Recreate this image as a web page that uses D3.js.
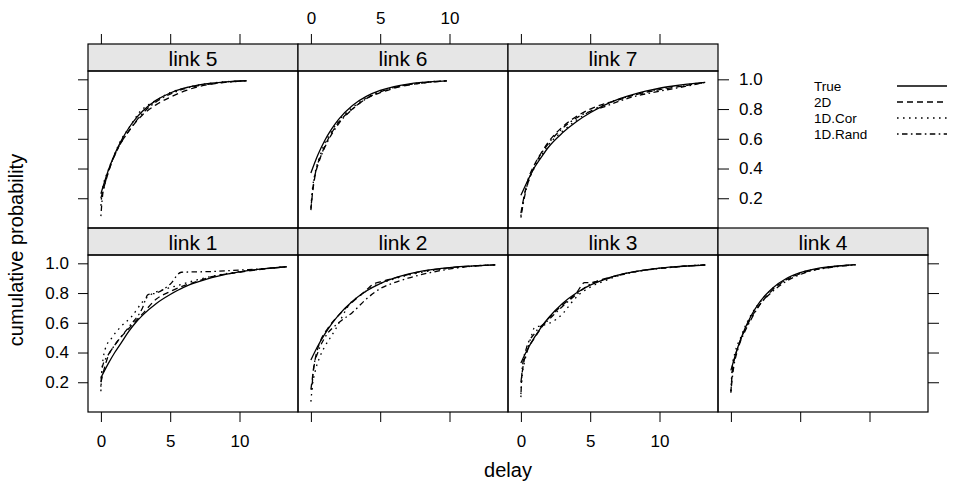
<!DOCTYPE html>
<html><head><meta charset="utf-8">
<script src="https://cdn.jsdelivr.net/npm/d3@7"></script>
<style>body{margin:0;background:#fff}svg{display:block}text{font-family:"Liberation Sans",Arial,Helvetica,sans-serif;fill:#000}</style>
</head><body><svg id="chart" width="957" height="485"></svg>
<script>
// ---- data ----
const links = ["link 1","link 2","link 3","link 4","link 5","link 6","link 7"];
const seriesNames = ["True","2D","1D.Cor","1D.Rand"];
const xTicks = [0,5,10];
const yTicks = [0.2,0.4,0.6,0.8,1.0];
const yTickLabels = ["0.2","0.4","0.6","0.8","1.0"];

const trueCurve = {
  "link 1": [[0,0.23],[0.5,0.32],[1,0.40],[1.5,0.47],[2,0.54],[2.5,0.60],[3,0.65],[4,0.73],[5,0.79],[6,0.84],[7,0.875],[8,0.904],[9,0.926],[10,0.943],[11,0.956],[12,0.966],[13.4,0.977]],
  "link 2": [[0,0.35],[0.5,0.444],[1,0.524],[1.5,0.593],[2,0.652],[3,0.745],[4,0.814],[5,0.864],[6,0.90],[7,0.927],[8,0.947],[9,0.961],[10,0.971],[11,0.979],[12,0.985],[13.3,0.99]],
  "link 3": [[0,0.33],[0.5,0.425],[1,0.505],[1.5,0.575],[2,0.634],[3,0.73],[4,0.80],[5,0.853],[6,0.891],[7,0.92],[8,0.941],[9,0.956],[10,0.968],[11,0.976],[12,0.982],[13.3,0.988]],
  "link 4": [[0,0.28],[0.5,0.436],[1,0.558],[1.5,0.654],[2,0.729],[2.5,0.787],[3,0.833],[4,0.898],[5,0.937],[6,0.961],[7,0.976],[8,0.985],[9,0.991]],
  "link 5": [[0,0.23],[0.5,0.378],[1,0.497],[1.5,0.593],[2,0.671],[2.5,0.734],[3,0.785],[4,0.86],[5,0.908],[6,0.94],[7,0.961],[8,0.974],[9,0.983],[10.5,0.991]],
  "link 6": [[0,0.37],[0.5,0.491],[1,0.589],[1.5,0.667],[2,0.731],[3,0.824],[4,0.885],[5,0.925],[6,0.951],[7,0.968],[8,0.979],[9.8,0.99]],
  "link 7": [[0,0.22],[0.5,0.32],[1,0.41],[1.5,0.48],[2,0.545],[3,0.64],[4,0.715],[5,0.775],[6,0.825],[7,0.865],[8,0.895],[9,0.92],[10,0.94],[11,0.955],[12,0.968],[13.3,0.98]]
};
const curve2D = {
  "link 1": [[0,0.2],[0.5,0.37],[1,0.45],[2,0.56],[3,0.66],[4,0.76],[5,0.81],[6,0.85],[7,0.88],[8,0.91],[10,0.94],[12,0.965],[13.4,0.977]],
  "link 2": [[0,0.15],[0.3,0.35],[0.7,0.48],[1.2,0.56],[2,0.65],[3,0.74],[4,0.82],[4.5,0.86],[5,0.875],[6,0.9],[8,0.945],[10,0.97],[13.3,0.99]],
  "link 3": [[0,0.2],[0.2,0.33],[0.5,0.42],[1,0.5],[1.5,0.57],[2,0.63],[3,0.72],[4,0.8],[4.6,0.87],[5,0.87],[6,0.895],[7,0.92],[9,0.955],[11,0.975],[13.3,0.99]],
  "link 4": [[0,0.13],[0.1,0.27],[0.3,0.37],[0.6,0.46],[1,0.55],[1.5,0.64],[2,0.71],[3,0.82],[4,0.89],[5,0.93],[6,0.955],[7,0.972],[9,0.99]],
  "link 5": [[0,0.2],[0.3,0.3],[0.7,0.42],[1.2,0.53],[2,0.65],[3,0.76],[4,0.83],[5,0.88],[6,0.92],[7,0.95],[9,0.98],[10.5,0.99]],
  "link 6": [[0,0.12],[0.1,0.22],[0.3,0.35],[0.6,0.45],[1,0.55],[1.5,0.64],[2,0.71],[3,0.8],[4,0.87],[5,0.91],[6,0.94],[8,0.975],[9.8,0.99]],
  "link 7": [[0,0.1],[0.2,0.2],[0.5,0.32],[1,0.43],[1.5,0.51],[2,0.58],[3,0.68],[4,0.75],[5,0.80],[6,0.835],[7,0.86],[8,0.89],[10,0.93],[12,0.96],[13.3,0.98]]
};
const curve1DCor = {
  "link 1": [[0,0.14],[0.05,0.25],[0.3,0.42],[0.8,0.5],[1.4,0.57],[2.2,0.64],[3,0.74],[3.6,0.79],[4.4,0.82],[5.5,0.85],[7,0.89],[9,0.93],[11,0.955],[13.4,0.977]],
  "link 2": [[0,0.07],[0.1,0.17],[0.3,0.27],[0.6,0.36],[1,0.44],[1.4,0.5],[1.8,0.56],[2.2,0.63],[2.6,0.7],[3.8,0.8],[4.4,0.84],[5.5,0.88],[7,0.92],[9,0.955],[11,0.975],[13.3,0.99]],
  "link 3": [[0,0.12],[0.1,0.25],[0.3,0.35],[0.5,0.43],[0.72,0.5],[1,0.57],[1.5,0.58],[2.5,0.62],[3.1,0.67],[3.6,0.73],[4.2,0.79],[5,0.84],[6,0.88],[7,0.915],[9,0.955],[11,0.975],[13.3,0.99]],
  "link 4": [[0,0.14],[0.1,0.3],[0.3,0.4],[0.7,0.5],[1,0.57],[1.5,0.66],[2.3,0.76],[3,0.83],[4,0.89],[5,0.935],[6,0.96],[7.5,0.98],[9,0.99]],
  "link 5": [[0,0.15],[0.1,0.25],[0.5,0.38],[1,0.5],[1.5,0.6],[2,0.67],[2.8,0.78],[4,0.86],[5,0.91],[6,0.94],[8,0.975],[10.5,0.99]],
  "link 6": [[0,0.14],[0.1,0.25],[0.3,0.37],[0.6,0.47],[1,0.57],[1.5,0.65],[2,0.72],[3,0.81],[4,0.875],[5,0.92],[6,0.945],[8,0.978],[9.8,0.99]],
  "link 7": [[0,0.08],[0.2,0.2],[0.5,0.3],[1,0.41],[1.5,0.49],[2,0.56],[3,0.65],[4,0.725],[5,0.785],[6,0.83],[8,0.89],[10,0.935],[12,0.965],[13.3,0.98]]
};
const curve1DRand = {
  "link 1": [[0,0.17],[0.1,0.3],[0.5,0.38],[1,0.45],[2,0.57],[3,0.7],[3.4,0.79],[4,0.8],[5,0.86],[5.8,0.94],[8,0.945],[10,0.955],[12,0.965],[13.4,0.977]],
  "link 2": [[0.07,0.15],[0.2,0.3],[0.5,0.4],[1,0.5],[2,0.6],[3,0.67],[4,0.76],[5,0.83],[6,0.87],[7,0.9],[9,0.945],[11,0.975],[13.3,0.99]],
  "link 3": [[0,0.1],[0.1,0.3],[0.4,0.43],[1,0.53],[2,0.62],[3,0.71],[4,0.79],[5,0.86],[6,0.89],[8,0.94],[10,0.965],[13.3,0.99]],
  "link 4": [[0,0.14],[0.2,0.3],[0.5,0.42],[1,0.54],[1.5,0.63],[2,0.71],[3,0.81],[4,0.88],[5,0.925],[6,0.955],[7,0.97],[9,0.99]],
  "link 5": [[0,0.08],[0.1,0.2],[0.3,0.3],[0.7,0.42],[1.2,0.53],[2,0.65],[3,0.77],[4,0.85],[5,0.9],[6,0.935],[8,0.97],[10.5,0.99]],
  "link 6": [[0,0.13],[0.15,0.27],[0.4,0.4],[0.8,0.5],[1.2,0.58],[2,0.7],[3,0.8],[4,0.87],[5,0.915],[6,0.945],[8,0.975],[9.8,0.99]],
  "link 7": [[0,0.07],[0.2,0.18],[0.5,0.3],[1,0.42],[2,0.57],[3,0.67],[4,0.74],[5,0.785],[6,0.815],[7,0.85],[8,0.88],[10,0.92],[12,0.955],[13.3,0.98]]
};

// ---- layout ----
const svg = d3.select("#chart");
const colX0 = 88, panelW = 210, stripH = 27, panelH = 157;
const rowStripTop = [44, 228]; // row 0 = top row, row 1 = bottom row
const layout = {
  "link 1": {col:0,row:1}, "link 2": {col:1,row:1}, "link 3": {col:2,row:1}, "link 4": {col:3,row:1},
  "link 5": {col:0,row:0}, "link 6": {col:1,row:0}, "link 7": {col:2,row:0}
};
const xDomain = [-0.93, 14.22], yDomain = [0, 1.056];
const styles = {
  "True":   {data: trueCurve,   dash: null},
  "2D":     {data: curve2D,     dash: "6,4"},
  "1D.Cor": {data: curve1DCor,  dash: "1.6,4.4"},
  "1D.Rand":{data: curve1DRand, dash: "1.6,3.4,5.5,3.4"}
};
const tickFont = "17px", stripFont = "21px";

function styleAxis(g, showLabels){
  g.select(".domain").remove();
  g.selectAll(".tick line").attr("stroke","#000").attr("stroke-width",1);
  g.selectAll(".tick text").style("font-size",tickFont).style("font-family",'"Liberation Sans",Arial,sans-serif').attr("fill","#000");
  if(!showLabels) g.selectAll(".tick text").remove();
}

links.forEach(link => {
  const {col,row} = layout[link];
  const left = colX0 + col*panelW;
  const stripTop = rowStripTop[row];
  const top = stripTop + stripH;
  const x = d3.scaleLinear().domain(xDomain).range([left, left+panelW]);
  const y = d3.scaleLinear().domain(yDomain).range([top+panelH, top]);
  const g = svg.append("g");

  // strip
  g.append("rect").attr("x",left).attr("y",stripTop).attr("width",panelW).attr("height",stripH)
    .attr("fill","#e6e6e6").attr("stroke","#000").attr("stroke-width",1.2);
  g.append("text").attr("x",left+panelW/2).attr("y",stripTop+stripH/2+1).attr("text-anchor","middle")
    .attr("dominant-baseline","central").style("font-size",stripFont).text(link);

  // curves
  const clipId = "clip"+link.replace(" ","");
  g.append("clipPath").attr("id",clipId).append("rect").attr("x",left).attr("y",top).attr("width",panelW).attr("height",panelH);
  const line = d3.line().x(d=>x(d[0])).y(d=>y(d[1])).curve(d3.curveMonotoneX);
  seriesNames.slice().reverse().forEach(s => {
    const p = g.append("path").datum(styles[s].data[link]).attr("d",line)
      .attr("fill","none").attr("stroke","#000").attr("stroke-width",1.3).attr("clip-path",`url(#${clipId})`);
    if(styles[s].dash) p.attr("stroke-dasharray",styles[s].dash);
  });

  // panel border
  g.append("rect").attr("x",left).attr("y",top).attr("width",panelW).attr("height",panelH)
    .attr("fill","none").attr("stroke","#000").attr("stroke-width",1.2);

  // axes (lattice alternating style)
  if(row===1){ // bottom axis
    const ax = g.append("g").attr("transform",`translate(0,${top+panelH})`)
      .call(d3.axisBottom(x).tickValues(xTicks).tickSize(10).tickPadding(13).tickFormat(d3.format("d")));
    styleAxis(ax, col%2===0);
  }
  if(row===0){ // top axis
    const ax = g.append("g").attr("transform",`translate(0,${stripTop})`)
      .call(d3.axisTop(x).tickValues(xTicks).tickSize(10).tickPadding(10).tickFormat(d3.format("d")));
    styleAxis(ax, col%2===1);
  }
  if(col===0){ // left axis
    const ax = g.append("g").attr("transform",`translate(${left},0)`)
      .call(d3.axisLeft(y).tickValues(yTicks).tickSize(10).tickPadding(9).tickFormat((d,i)=>yTickLabels[i]));
    styleAxis(ax, row===1);
  }
  const lastCol = row===0 ? 2 : 3;
  if(col===lastCol){ // right axis
    const ax = g.append("g").attr("transform",`translate(${left+panelW},0)`)
      .call(d3.axisRight(y).tickValues(yTicks).tickSize(11).tickPadding(10).tickFormat((d,i)=>yTickLabels[i]));
    styleAxis(ax, row===0);
  }
});

// axis titles
svg.append("text").attr("x",508).attr("y",477).attr("text-anchor","middle").style("font-size","20px").text("delay");
svg.append("text").attr("transform","translate(23,250) rotate(-90)").attr("text-anchor","middle").style("font-size","20px").text("cumulative probability");

// legend
const legY0 = 86, legStep = 16;
seriesNames.forEach((s,i) => {
  const yy = legY0 + i*legStep;
  svg.append("text").attr("x",814).attr("y",yy).attr("dominant-baseline","central").style("font-size","13.5px").text(s);
  const l = svg.append("line").attr("x1",897).attr("x2",947).attr("y1",yy).attr("y2",yy)
    .attr("stroke","#000").attr("stroke-width",1.3);
  if(styles[s].dash) l.attr("stroke-dasharray",styles[s].dash);
});
</script></body></html>
